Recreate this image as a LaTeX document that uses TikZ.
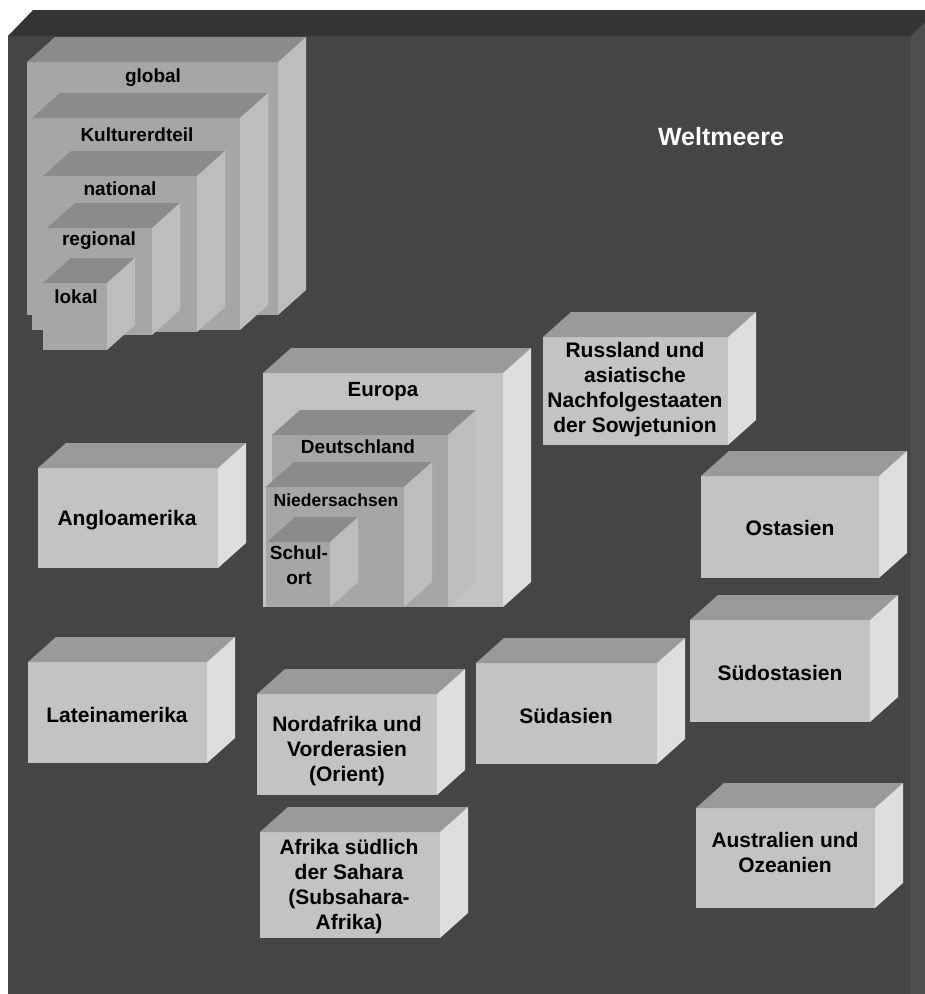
\documentclass[tikz,border=0pt]{standalone}
\usepackage{fontspec}
\setmainfont{Liberation Sans}
\definecolor{bgfront}{HTML}{454545}
\definecolor{bgtop}{HTML}{343434}
\definecolor{bgside}{HTML}{4E4E4E}
\definecolor{mfront}{HTML}{C3C3C3}
\definecolor{mtop}{HTML}{9A9A9A}
\definecolor{mside}{HTML}{DEDEDE}
\definecolor{nfront}{HTML}{A6A6A6}
\definecolor{ntop}{HTML}{8B8B8B}
\definecolor{nside}{HTML}{BDBDBD}
\tikzset{
  lbl/.style={font=\bfseries\fontsize{21}{25}\selectfont, align=center, text=black, inner sep=0},
  sml/.style={font=\bfseries\fontsize{19}{23}\selectfont, align=center, text=black, inner sep=0},
  facebox/.style={draw=none, inner sep=0, outer sep=0, anchor=north west},
}
% #1 name, #2 x1, #3 y1, #4 x2, #5 y2, #6 front, #7 top, #8 side
\newcommand\boxthree[8]{%
  \node[facebox, fill=#6, minimum width={#4pt-#2pt}, minimum height={#5pt-#3pt}] (#1) at (#2,#3) {};
  \fill[#7] (#1.north west) -- ++(28,-25) -- ++({#4-#2},0) -- (#1.north east) -- cycle;
  \fill[#8] (#1.north east) -- ++(28,-25) -- ++(0,{#5-#3}) -- (#1.south east) -- cycle;
}
\begin{document}
\begin{tikzpicture}[x=1pt,y=-1pt]
\useasboundingbox (0,0) rectangle (925,994);
\clip (0,0) rectangle (925,994);
\fill[white] (0,0) rectangle (925,994);
% background box
\fill[bgtop] (8,36) -- (33,10) -- (960,10) -- (911,36) -- cycle;
\fill[bgside] (911,36) -- (936,11) -- (936,994) -- (911,994) -- cycle;
\node[facebox, fill=bgfront, minimum width=903pt, minimum height=958pt] (sea) at (8,36) {};
\node[lbl, text=white, font=\bfseries\fontsize{25}{29}\selectfont] (sea-t) at (721,137) {Weltmeere};

% nested scale levels
\boxthree{global}{27}{62}{278}{315}{nfront}{ntop}{nside}
\node[sml] (global-t) at (153,78) {global};
\boxthree{kultur}{32}{118}{240}{330}{nfront}{ntop}{nside}
\node[sml] (kultur-t) at (137,135) {Kulturerdteil};
\boxthree{national}{43}{176}{197}{332}{nfront}{ntop}{nside}
\node[sml] (national-t) at (120,189) {national};
\boxthree{regional}{47}{228}{152}{335}{nfront}{ntop}{nside}
\node[sml] (regional-t) at (99,241) {regional};
\boxthree{lokal}{43}{283}{107}{350}{nfront}{ntop}{nside}
\node[sml] (lokal-t) at (76,297) {lokal};

% Europa group
\boxthree{europa}{263}{373}{503}{607}{mfront}{mtop}{mside}
\node[sml, font=\bfseries\fontsize{20.5}{24}\selectfont] (europa-t) at (383,392) {Europa};
\boxthree{deutsch}{272}{435}{448}{607}{nfront}{ntop}{nside}
\node[sml] (deutsch-t) at (358,447) {Deutschland};
\boxthree{nieder}{266}{487}{404}{607}{nfront}{ntop}{nside}
\node[sml, font=\bfseries\fontsize{17.5}{21}\selectfont] (nieder-t) at (336,500) {Niedersachsen};
\boxthree{schulort}{267}{542}{330}{607}{nfront}{ntop}{nside}
\node[sml, font=\bfseries\fontsize{19}{25}\selectfont] (schulort-t) at (299,565) {Schul-\\ort};

% culture regions
\boxthree{russland}{543}{337}{728}{445}{mfront}{mtop}{mside}
\node[lbl] (russland-t) at (635,390) {Russland und\\asiatische\\Nachfolgestaaten\\der Sowjetunion};
\boxthree{ostasien}{701}{476}{879}{578}{mfront}{mtop}{mside}
\node[lbl] (ostasien-t) at (790,528) {Ostasien};
\boxthree{anglo}{38}{468}{218}{568}{mfront}{mtop}{mside}
\node[lbl] (anglo-t) at (127,520) {Angloamerika};
\boxthree{latein}{28}{662}{207}{763}{mfront}{mtop}{mside}
\node[lbl] (latein-t) at (117,715) {Lateinamerika};
\boxthree{nordafrika}{257}{694}{437}{795}{mfront}{mtop}{mside}
\node[lbl] (nordafrika-t) at (347,751) {Nordafrika und\\Vorderasien\\(Orient)};
\boxthree{suedasien}{476}{663}{657}{764}{mfront}{mtop}{mside}
\node[lbl] (suedasien-t) at (566,716) {Südasien};
\boxthree{afrika}{260}{832}{440}{938}{mfront}{mtop}{mside}
\node[lbl] (afrika-t) at (349,887) {Afrika südlich\\der Sahara\\(Subsahara-\\Afrika)};
\boxthree{suedost}{690}{620}{870}{722}{mfront}{mtop}{mside}
\node[lbl] (suedost-t) at (780,673) {Südostasien};
\boxthree{austral}{696}{808}{875}{908}{mfront}{mtop}{mside}
\node[lbl] (austral-t) at (785,852) {Australien und\\Ozeanien};
\end{tikzpicture}
\end{document}
